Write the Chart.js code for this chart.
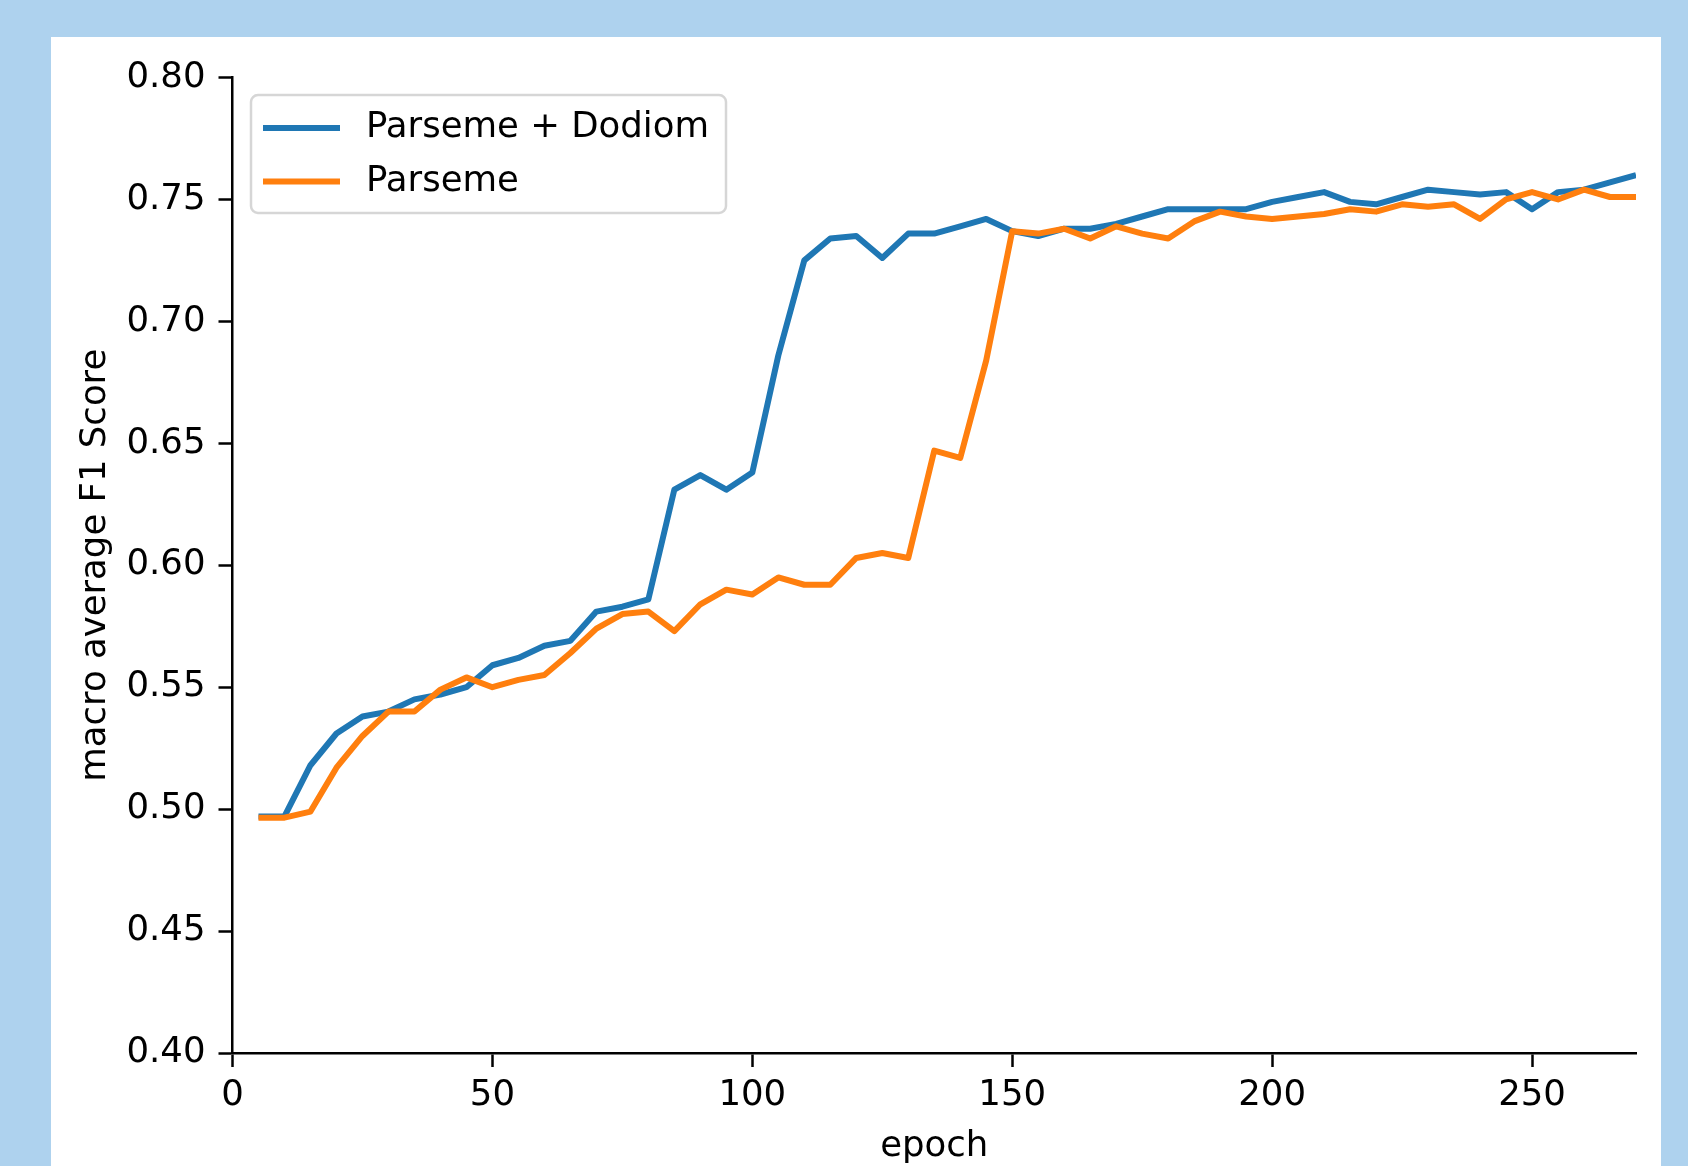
<!DOCTYPE html>
<html>
<head>
<meta charset="utf-8">
<script src="https://cdn.jsdelivr.net/npm/chart.js@4.4.1/dist/chart.umd.min.js"></script>
<style>
    html, body {
        margin: 0;
        padding: 0;
        width: 1688px;
        height: 1166px;
        overflow: hidden;
        background: #aed2ee;
    }
    #panel {
        position: absolute;
        left: 51px;
        top: 37px;
        width: 1610px;
        height: 1129px;
        background: #ffffff;
    }
    #chart {
        display: block;
    }
</style>
</head>
<body>
<div id="panel">
    <canvas id="chart" width="1610" height="1129"></canvas>
</div>
<script>
const epochs = [5, 10, 15, 20, 25, 30, 35, 40, 45, 50, 55, 60, 65, 70, 75, 80, 85, 90, 95, 100,
    105, 110, 115, 120, 125, 130, 135, 140, 145, 150, 155, 160, 165, 170, 175, 180, 185, 190, 195, 200,
    205, 210, 215, 220, 225, 230, 235, 240, 245, 250, 255, 260, 265, 270];

const parsemeDodiom = [0.497, 0.497, 0.518, 0.531, 0.538, 0.540, 0.545, 0.547, 0.550, 0.559,
    0.562, 0.567, 0.569, 0.581, 0.583, 0.586, 0.631, 0.637, 0.631, 0.638,
    0.686, 0.725, 0.734, 0.735, 0.726, 0.736, 0.736, 0.739, 0.742, 0.737,
    0.735, 0.738, 0.738, 0.740, 0.743, 0.746, 0.746, 0.746, 0.746, 0.749,
    0.751, 0.753, 0.749, 0.748, 0.751, 0.754, 0.753, 0.752, 0.753, 0.746,
    0.753, 0.754, 0.757, 0.760];

const parseme = [0.4965, 0.4965, 0.499, 0.517, 0.530, 0.540, 0.540, 0.549, 0.554, 0.550,
    0.553, 0.555, 0.564, 0.574, 0.580, 0.581, 0.573, 0.584, 0.590, 0.588,
    0.595, 0.592, 0.592, 0.603, 0.605, 0.603, 0.647, 0.644, 0.684, 0.737,
    0.736, 0.738, 0.734, 0.739, 0.736, 0.734, 0.741, 0.745, 0.743, 0.742,
    0.743, 0.744, 0.746, 0.745, 0.748, 0.747, 0.748, 0.742, 0.750, 0.753,
    0.750, 0.754, 0.751, 0.751];

const seriesLabels = ["Parseme + Dodiom", "Parseme"];
const seriesColors = ["#1f77b4", "#ff7f0e"];
const xTicks = [0, 50, 100, 150, 200, 250];
const yTicks = [0.40, 0.45, 0.50, 0.55, 0.60, 0.65, 0.70, 0.75, 0.80];

const FONT = "'DejaVu Sans', sans-serif";
const FONT_SIZE = 35.5;

function toPoints(values) {
    return values.map(function (v, i) {
        return { x: epochs[i], y: v };
    });
}

// matplotlib-style legend box drawn inside the plot area
const insideLegend = {
    id: "insideLegend",
    afterDatasetsDraw(chart) {
        const ctx = chart.ctx;
        const area = chart.chartArea;
        const boxX = area.left + 18.5;
        const boxY = area.top + 17.5;
        const boxW = 475;
        const boxH = 118;
        const rowGap = 53.5;

        ctx.save();
        ctx.beginPath();
        ctx.roundRect(boxX, boxY, boxW, boxH, 7);
        ctx.fillStyle = "rgba(255, 255, 255, 0.8)";
        ctx.fill();
        ctx.lineWidth = 2.5;
        ctx.strokeStyle = "rgba(204, 204, 204, 0.8)";
        ctx.stroke();

        ctx.font = FONT_SIZE + "px " + FONT;
        ctx.textBaseline = "middle";
        ctx.textAlign = "left";
        chart.data.datasets.forEach(function (ds, i) {
            const y = boxY + 33 + i * rowGap;
            ctx.beginPath();
            ctx.moveTo(boxX + 12, y);
            ctx.lineTo(boxX + 89, y);
            ctx.lineWidth = 6;
            ctx.lineCap = "butt";
            ctx.strokeStyle = ds.borderColor;
            ctx.stroke();
            ctx.fillStyle = "#000000";
            ctx.fillText(ds.label, boxX + 115, y);
        });
        ctx.restore();
    }
};

new Chart(document.getElementById("chart"), {
    type: "line",
    data: {
        datasets: [
            {
                label: seriesLabels[0],
                data: toPoints(parsemeDodiom),
                borderColor: seriesColors[0],
                backgroundColor: seriesColors[0],
                borderWidth: 6,
                pointRadius: 0,
                tension: 0,
                borderJoinStyle: "round",
                order: 1
            },
            {
                label: seriesLabels[1],
                data: toPoints(parseme),
                borderColor: seriesColors[1],
                backgroundColor: seriesColors[1],
                borderWidth: 6,
                pointRadius: 0,
                tension: 0,
                borderJoinStyle: "round",
                order: 0
            }
        ]
    },
    options: {
        responsive: false,
        animation: false,
        devicePixelRatio: 1,
        layout: {
            padding: { top: 40.5, right: 25, bottom: 0, left: 0 }
        },
        plugins: {
            legend: { display: false },
            tooltip: { enabled: false }
        },
        scales: {
            x: {
                type: "linear",
                min: 0,
                max: 270,
                afterBuildTicks: function (scale) {
                    scale.ticks = xTicks.map(function (v) { return { value: v }; });
                },
                afterFit: function (scale) {
                    scale.height = 113;
                },
                grid: {
                    drawOnChartArea: false,
                    drawTicks: true,
                    tickLength: 14,
                    tickWidth: 2.5,
                    tickColor: "#000000"
                },
                border: {
                    display: true,
                    color: "#000000",
                    width: 2.5
                },
                ticks: {
                    autoSkip: false,
                    maxRotation: 0,
                    padding: 7,
                    color: "#000000",
                    font: { family: FONT, size: FONT_SIZE },
                    callback: function (value) {
                        return String(value);
                    }
                },
                title: {
                    display: true,
                    text: "epoch",
                    color: "#000000",
                    font: { family: FONT, size: FONT_SIZE },
                    padding: { top: 0, bottom: -2 }
                }
            },
            y: {
                type: "linear",
                min: 0.4,
                max: 0.8,
                afterBuildTicks: function (scale) {
                    scale.ticks = yTicks.map(function (v) { return { value: v }; });
                },
                afterFit: function (scale) {
                    scale.width = 181.5;
                },
                grid: {
                    drawOnChartArea: false,
                    drawTicks: true,
                    tickLength: 14,
                    tickWidth: 2.5,
                    tickColor: "#000000"
                },
                border: {
                    display: true,
                    color: "#000000",
                    width: 2.5
                },
                ticks: {
                    padding: 13,
                    color: "#000000",
                    font: { family: FONT, size: FONT_SIZE },
                    callback: function (value) {
                        return Number(value).toFixed(2);
                    }
                },
                title: {
                    display: true,
                    text: "macro average F1 Score",
                    color: "#000000",
                    font: { family: FONT, size: FONT_SIZE },
                    padding: { top: 23, bottom: 0 }
                }
            }
        }
    },
    plugins: [insideLegend]
});
</script>
</body>
</html>
